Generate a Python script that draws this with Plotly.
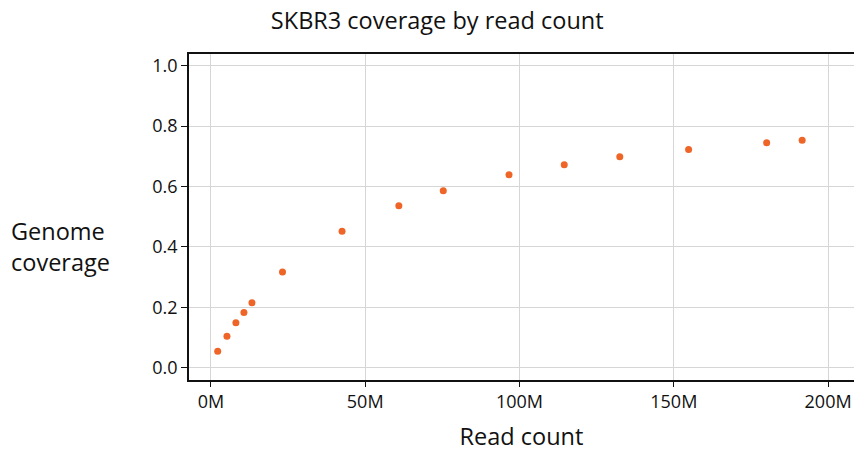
import plotly.graph_objects as go

read_count_m = [2.2, 5.2, 8.1, 10.7, 13.3, 23.2, 42.5, 60.9, 75.3, 96.6, 114.5, 132.5, 154.8, 180.1, 191.6]
genome_coverage = [0.054, 0.104, 0.149, 0.183, 0.215, 0.317, 0.452, 0.536, 0.586, 0.639, 0.672, 0.699, 0.723, 0.745, 0.753]
x_ticks = [0, 50, 100, 150, 200]
x_tick_labels = ["0M", "50M", "100M", "150M", "200M"]
y_ticks = [0.0, 0.2, 0.4, 0.6, 0.8, 1.0]
y_tick_labels = ["0.0", "0.2", "0.4", "0.6", "0.8", "1.0"]

FONT = "Open Sans"

fig = go.Figure(go.Scatter(
    x=read_count_m, y=genome_coverage, mode="markers",
    marker=dict(color="#EE6527", size=7, line=dict(width=0)),
))

fig.update_layout(
    width=854, height=459,
    margin=dict(l=189, r=0, t=54, b=79),
    paper_bgcolor="white", plot_bgcolor="white",
    showlegend=False,
    font=dict(family=FONT, color="#111111"),
    title=dict(text="SKBR3 coverage by read count", x=0.512, xanchor="center",
               y=0.955, yanchor="middle", font=dict(size=23.5, family=FONT, color="#111111")),
    xaxis=dict(
        range=[-7.1, 208.4], tickvals=x_ticks, ticktext=x_tick_labels,
        showgrid=True, gridcolor="#d6d6d6", gridwidth=1, zeroline=False,
        showline=True, linecolor="#111111", linewidth=1.5, mirror=True,
        ticks="outside", ticklen=5, tickcolor="#111111",
        tickfont=dict(size=18, family=FONT, color="#111111"),
        title=dict(text="Read count", font=dict(size=23.5, family=FONT, color="#111111"), standoff=16),
    ),
    yaxis=dict(
        range=[-0.041, 1.039], tickvals=y_ticks, ticktext=y_tick_labels,
        showgrid=True, gridcolor="#d6d6d6", gridwidth=1, zeroline=False,
        showline=True, linecolor="#111111", linewidth=1.5,
        ticks="outside", ticklen=6, tickcolor="#111111",
        tickfont=dict(size=18, family=FONT, color="#111111"),
    ),
    annotations=[dict(
        text="Genome<br>coverage", xref="paper", yref="paper",
        x=-0.1925, y=0.408, xanchor="center", yanchor="middle", showarrow=False,
        align="left", font=dict(size=23.5, family=FONT, color="#111111"),
    )],
)

fig.write_html("out.html")
